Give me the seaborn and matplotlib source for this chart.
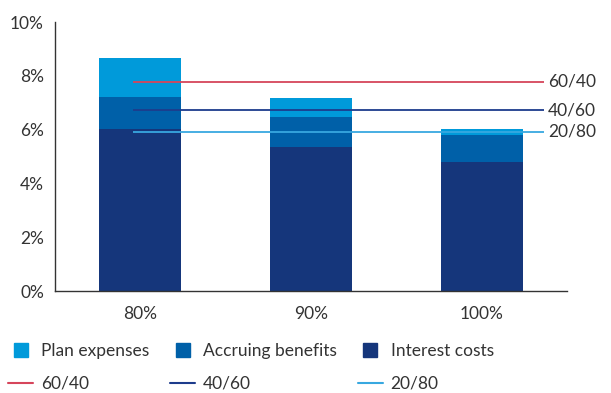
import pandas as pd
import seaborn as sns
import matplotlib.pyplot as plt
from matplotlib.lines import Line2D

# funding ratio buckets and cost components (% of assets)
funding = ["80%", "90%", "100%"]
interest_costs = [6.02, 5.35, 4.81]
accruing_benefits = [1.19, 1.12, 0.99]
plan_expenses = [1.45, 0.69, 0.22]

# portfolio mix expected returns (%)
mix_labels = ["60/40", "40/60", "20/80"]
mix_returns = [7.78, 6.72, 5.92]

c_plan = "#009ADA"
c_accr = "#0060A8"
c_int = "#15367B"
mix_colors = ["#D6455B", "#1D3C8C", "#38A8E0"]

sns.set_theme(style="white")
plt.rcParams["font.family"] = ["Lato", "DejaVu Sans"]
txt = "#333333"

df = pd.DataFrame({"funding": funding, "interest": interest_costs,
                   "accruing": accruing_benefits, "plan": plan_expenses})
df["lvl2"] = df["interest"] + df["accruing"]
df["lvl3"] = df["lvl2"] + df["plan"]

fig = plt.figure(figsize=(6.11, 3.93), dpi=100)
ax = fig.add_axes([0.090, 0.2595, 0.838, 0.6845])

# stacked bars: draw totals first, then overlay lower parts
for col, c in [("lvl3", c_plan), ("lvl2", c_accr), ("interest", c_int)]:
    sns.barplot(data=df, x="funding", y=col, color=c, width=0.48,
                saturation=1, linewidth=0, ax=ax)

for lab, val, col in zip(mix_labels, mix_returns, mix_colors):
    ax.hlines(val, -0.04, 2.365, color=col, lw=1.3)
    ax.text(2.39, val, lab, va="center", ha="left", fontsize=12.5, color=txt)

ax.set_xlim(-0.5, 2.5)
ax.set_ylim(0, 10)
ax.set_yticks([0, 2, 4, 6, 8, 10])
ax.set_yticklabels([f"{v}%" for v in [0, 2, 4, 6, 8, 10]])
ax.set_xlabel("")
ax.set_ylabel("")
ax.tick_params(axis="both", length=0, labelsize=12.5, colors=txt)
ax.tick_params(axis="x", pad=11)
ax.tick_params(axis="y", pad=8)
for s in ["top", "right"]:
    ax.spines[s].set_visible(False)
for s in ["left", "bottom"]:
    ax.spines[s].set_color("#333333")
    ax.spines[s].set_linewidth(1.0)

handles = [
    Line2D([], [], marker="s", ls="none", color=c_plan, markersize=10),
    Line2D([], [], color=mix_colors[0], lw=1.5),
    Line2D([], [], marker="s", ls="none", color=c_accr, markersize=10),
    Line2D([], [], color=mix_colors[1], lw=1.5),
    Line2D([], [], marker="s", ls="none", color=c_int, markersize=10),
    Line2D([], [], color=mix_colors[2], lw=1.5),
]
labels = ["Plan expenses", mix_labels[0], "Accruing benefits", mix_labels[1],
          "Interest costs", mix_labels[2]]
leg = fig.legend(handles, labels, ncol=3, loc="upper left", bbox_to_anchor=(0.013, 0.127),
                 frameon=False, fontsize=12.5, handlelength=1.45, handletextpad=0.45,
                 columnspacing=1.2, labelspacing=0.95, borderaxespad=0, borderpad=0)
for t in leg.get_texts():
    t.set_color(txt)

fig.savefig("out.png", dpi=100)
